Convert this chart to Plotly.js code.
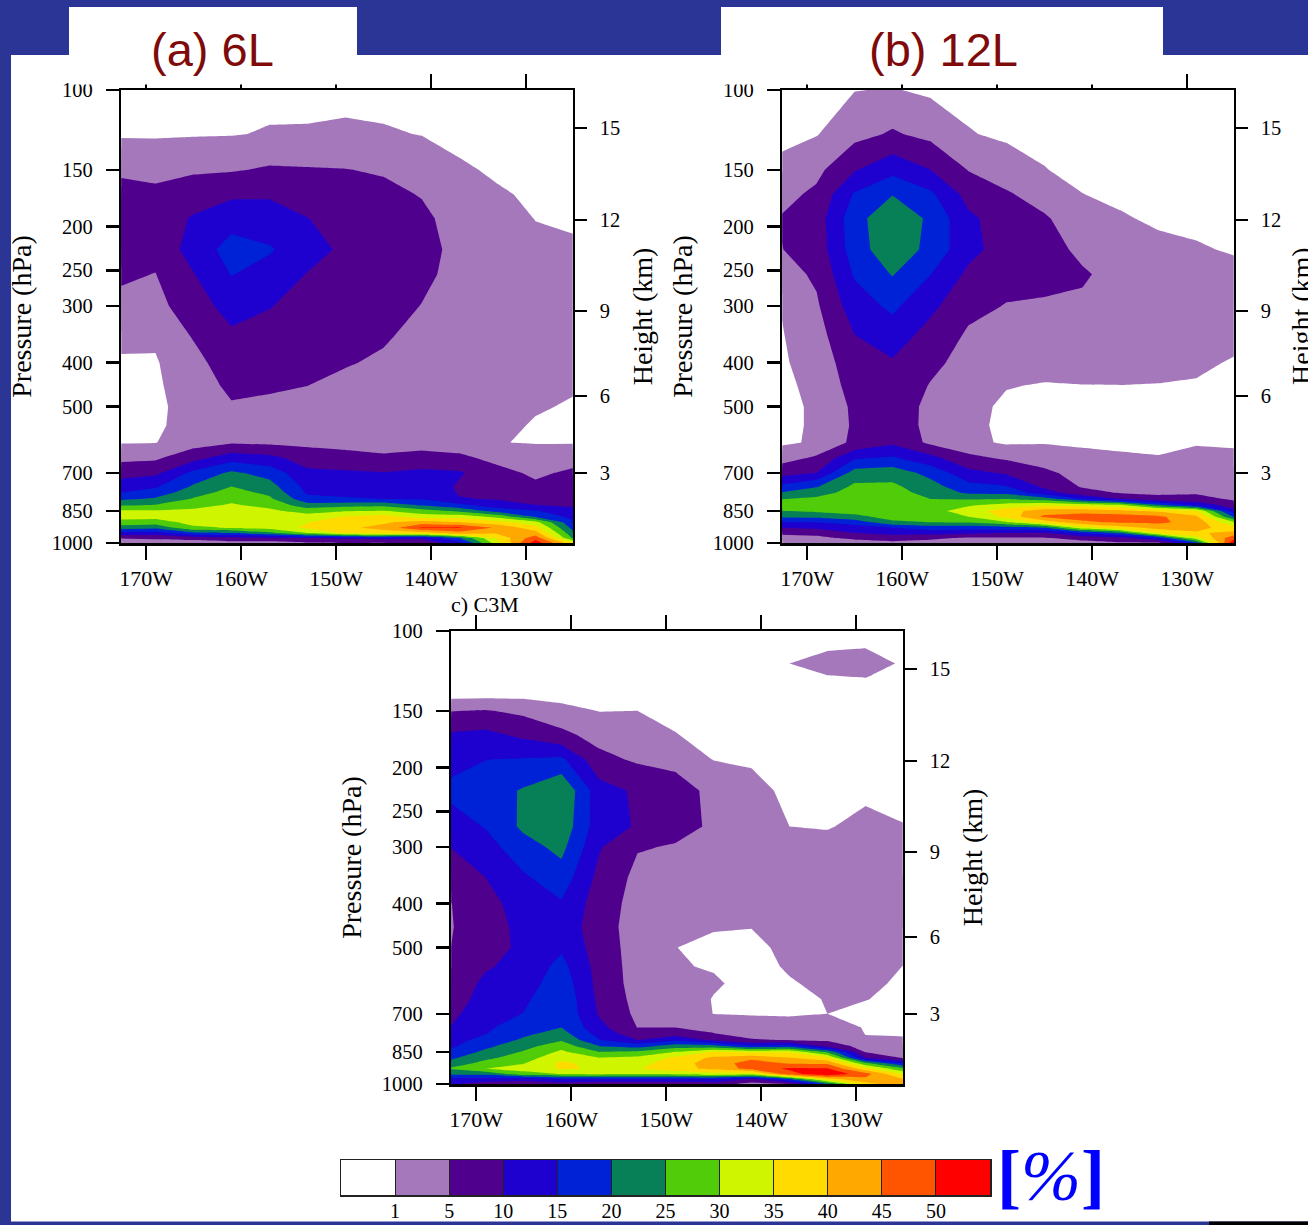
<!DOCTYPE html>
<html><head><meta charset="utf-8">
<script src="https://cdn.plot.ly/plotly-3.0.1.min.js"></script>
<style>html,body{margin:0;padding:0;background:#2B3595}#chart{width:1308px;height:1225px}</style>
</head><body><div id="chart"></div>
<script>
const lons=[-173,-169,-165,-161,-157,-153,-149,-145,-141,-137,-133,-129,-125];
const pressAB=[100,125,150,170,192,225,255,300,350,400,450,500,550,600,650,700,750,775,800,825,850,875,900,925,950,975,1000];
const pressC=[100,118,125,140,150,170,192,225,270,300,350,400,450,500,550,600,650,700,750,775,800,825,850,875,900,925,950,975,1000];
const levels=[1,5,10,15,20,25,30,35,40,45,50];
const levelLabels=['1','5','10','15','20','25','30','35','40','45','50'];
const colors=['#FFFFFF','#A578BC','#4F008C','#1E00CF','#0022D6','#078058','#50CC09','#D0F500','#FFDB00','#FFA800','#FF5500','#FF0000'];
const pTicks=[100,150,200,250,300,400,500,700,850,1000];
const heightTickP=[121.3,193.7,307.6,474,700];
const heightLabels=['15','12','9','6','3'];
const lonTicks=[-170,-160,-150,-140,-130];
const lonLabels=['170W','160W','150W','140W','130W'];

// Cloud fraction (%) per longitude column, from 100 hPa down to 1000 hPa
const a173=[0,.6,4.1,7,7.6,7,5.7,4,1.6,.7,.5,.5,.5,.8,3.9,8,12.4,15,19,24.4,31,32,28,22.5,13,5.3,2];
const a169=[0,.6,3.7,6,7,6.5,4.9,3.6,1.5,.7,.5,.5,.6,.9,4.3,8.9,14.3,17.3,20.8,25.3,30.6,32,27.3,21.5,13,6,2];
const a165=[0,.7,4.4,7.5,10.5,12,9.8,7.5,5.3,3.6,2.8,2,2,3,8.4,16.2,20.6,23,25.5,28.5,31,33,32,29,19,7.5,1.5];
const a161=[0,.8,4.6,9.2,13,17,15.2,12,9,7.4,5.9,4.6,3.8,4.5,13,20.9,25,26.9,28.8,30.6,33,34,33,30.5,20,8,3.5];
const a157=[0,1.26,5.5,9.5,12,15.5,13,10.2,8.3,7,5.5,4.2,3.5,4,11.5,18,22,24,26,28.7,31,33,34,32,24,9,3];
const a153=[0,1.3,5.3,7.8,10.1,12,9.8,8.3,6.8,6,5,4,3.4,3.8,7.8,11,13.4,14.3,16.6,22,28.2,32,34.8,36,30,10,4.5];
const a149=[0,1.6,5.1,6.5,7.8,9,8.3,7,6,5.2,4.3,3.5,3,3.5,6.7,10.7,13,14,15.5,23.2,29.7,35.5,38,39,36,11,5];
const a145=[0,1.3,4.6,6,7,7.8,7.5,6.6,5.3,4.6,3.8,3.2,2.8,3.2,5.8,10.2,12.5,13.7,15,23.7,30.4,37,39.3,41.5,38,12,4.5];
const a141=[0,.9,3,4.8,5.9,6.7,6,4.9,4.2,3.6,3.2,2.8,2.5,3,7,11.1,13.5,13.8,14.8,19.4,27.5,32.5,42,50.5,38,11,7];
const a137=[0,.2,1.4,2.8,3.3,3.6,3.6,3.3,3,2.7,2.4,2.2,2,2.8,6,10.6,9.3,9.6,10.3,16.3,24,33,40,50.5,43,20,13];
const a133=[0,.1,.6,1.3,1.9,2.5,2.8,2.8,2.6,2.4,1.9,1.6,1.3,1.1,3.8,6.4,8.1,8.9,9.7,12.2,18,28.6,37,44,41,36,33];
const a129=[0,0,.2,.6,.95,1.5,1.9,2.2,2,1.8,1.4,1.1,.9,.8,3,4.2,5.8,7,8,10.1,15.5,19.5,31.7,37,42,48,53];
const a125=[0,0,.1,.4,.8,1.2,1.5,1.7,1.5,1.2,1.1,.9,.6,.8,3.5,5.8,7,7.8,8.5,9.5,11,13.5,15.5,18,21,24,36];

const b173=[0,.3,1.6,3.3,5.1,4.7,2.8,.9,.6,.5,.4,.4,.4,.4,3.1,7.7,16,20,24.8,27.5,24.8,21,14.7,10,5.8,3.5,1.2];
const b169=[0,.8,3.7,6,7.5,7,5.8,4.3,3,2.2,1.6,1.3,1.3,1.4,5.8,10,19.5,23,26,28,26,21,15,11,6.5,3.8,1.5];
const b165=[.9,3.5,9.6,15.5,18,17.5,15.5,12.6,9.8,7.8,6.8,5.8,5.6,6,14.5,22,26,27,28.5,28.5,27,23.5,17,13,10,6.2,2.5];
const b161=[1.2,5.5,13.5,19.8,24,23.5,20.3,16,12.4,9.5,8.5,8,8,9,15.7,22.8,26,27,28,29,28.5,27,24,15,11.5,7.5,3.5];
const b157=[.4,3.7,10,16,19,18.5,15.1,11.2,8,6.2,4.7,3.7,3.6,4,11.7,18.3,22,23.3,25,27,28.5,28,25,17.5,12,6,3];
const b153=[0,1.2,4.8,8.2,11,11.5,9,6.2,4.3,3.2,2.2,1.7,1.6,2,6.2,11.5,16.5,19.2,24.5,29.5,32,30,25.5,17,11,4.3,2];
const b149=[0,.4,2.8,5.5,7.5,7.8,6.5,4.8,3,1.9,1.1,.6,.5,.5,4.4,9.3,15.2,18.8,25,32,38,36.5,29.5,18,10,4.5,2];
const b145=[0,.2,1.1,3.2,5.5,6.8,6,4.6,3,1.8,.85,.6,.5,.8,2.9,6,9,12,23,34,42.5,46,37,20,9.8,4.6,2];
const b141=[0,0,.2,1.05,2.4,4,5.5,4.3,3,1.8,.95,.6,.5,.7,1.6,3.2,4.5,7,15.1,33,43,47.5,44,33,15.5,7,3];
const b137=[0,0,0,.4,1.3,2.7,3.5,3.6,2.7,1.6,.98,.6,.5,.6,1.3,2.5,4,4.7,10.2,31,41.5,47.5,45.8,38,21,8.8,4.4];
const b133=[0,0,0,0,.5,1.8,2.7,2.9,2.3,1.4,.95,.6,.5,.6,1.1,2,3.4,4,7,21,39,46,46,42,35,15,4];
const b129=[0,0,0,0,.5,1.2,2.3,2.5,2,1.2,.9,.7,.6,.8,1.8,2.8,3.9,4.5,6.7,14,35.5,41,43,42.5,39,33,18];
const b125=[0,0,0,0,.3,.8,1.6,1.8,1.3,.9,.6,.5,.5,.7,1.5,2.3,3.2,3.7,4.3,7.2,11.5,19,30.5,36,42,49,55];

const c173=[0,0,0,.5,4.8,10.7,12.9,16.2,12,9.8,7,4.6,4.5,4.7,5.5,6.5,7,8.5,9.8,11.3,12.5,13.7,15.7,18.6,21.3,25.3,21,14,11];
const c169=[0,0,0,.6,5.3,11.5,14.9,17.5,15.3,13,10,8,7.5,8,9.5,11,12,12.8,14,14.8,16.8,18.8,21.2,23.7,26.8,30,21.5,13,8];
const c165=[0,0,0,.6,3.9,9.1,15.3,20.5,21,18,14.3,12.5,11.5,11,11.5,12.5,14,15.1,18,19,20.8,23.3,25.5,27.6,29.7,32,28,12,7];
const c161=[0,0,0,.18,2,6.2,16,24.5,23.5,21.4,17.8,14.5,13.3,14.3,16.5,18,19,19.3,20,22,24.5,28,31,33.5,36,35.5,30.3,15,8];
const c157=[0,0,0,.2,.9,3.4,6.3,12,12,10.4,8.5,7.4,7,7.5,8,8.3,8.8,9.4,11.5,13.2,15.1,20,25.1,30,33,34.5,31,14,7];
const c153=[0,0,0,.2,1,2.6,4.3,9.2,9.6,5.3,3.8,3.3,3,3,3,3.1,3.5,4,4.9,7,10,18,26,31,33,34.5,30.5,14,7];
const c149=[0,0,0,0,.4,1.1,3.3,7.5,6.2,4.7,3,2,1.5,1.02,1.15,1.6,2.3,3.5,4.9,7.9,14,22.5,30.2,36,38,38.5,31,14,7];
const c145=[0,0,0,0,0,.3,.9,3.5,4.5,3.8,2.5,1.6,1.1,.7,.85,1.25,.9,.95,3.8,5.2,9,22,35.5,41,42,41,33,14,8];
const c141=[0,0,0,0,0,.1,.6,2,3,3,2.3,1.5,1.05,.5,.4,.4,.5,.8,2.4,3.5,5.4,16,34,43.5,47.5,47,32,10,3];
const c137=[0,1,.5,0,0,0,0,.3,1,1.7,2,2,1.8,1.5,1.2,.85,.5,.8,1.8,3.5,4.8,17.5,34.5,40.3,44.5,50.8,48,20,5];
const c133=[0,1.63,1.02,0,0,0,0,0,.9,1.5,1.9,2.2,2.1,1.9,1.7,1.4,1.1,1,2.5,3.2,4.4,8.2,24,35.8,44.2,50.5,54,38,20];
const c129=[0,1.88,1.15,0,0,0,0,.7,1.4,2,2.4,2.6,2.4,2.1,1.7,1.4,1.05,.6,.8,.95,1.2,3,4.8,9,26,37,47,44,38];
const c125=[0,.75,.3,0,0,0,0,.1,1.1,1.5,2,2.2,2,1.5,.97,.7,.6,.6,.7,.85,1.2,2.4,3.5,4.6,15,26,34,40,44];

const colsA=[a173,a169,a165,a161,a157,a153,a149,a145,a141,a137,a133,a129,a125];
const colsB=[b173,b169,b165,b161,b157,b153,b149,b145,b141,b137,b133,b129,b125];
const colsC=[c173,c169,c165,c161,c157,c153,c149,c145,c141,c137,c133,c129,c125];

const W=1308,H=1225;
function gridFrom(cols,nrows){
  const z=[];
  for(let r=0;r<nrows;r++) z.push(cols.map(c=>c[r]));
  return z;
}
// Contours run every 1 % from 1 to 50; the fill colour map spans 0.5..50.5 across the colour scale,
// so the stepped scale has its breaks at the class limits on that span.
const valueScale=(()=>{const s=[],b=[0.5].concat(levels,[50.5]);const f=v=>(v-0.5)/50;colors.forEach((c,i)=>{s.push([f(b[i]),c]);s.push([f(b[i+1]),c]);});return s;})();
const keyScale=(()=>{const s=[],n=colors.length;colors.forEach((c,i)=>{s.push([i/n,c]);s.push([(i+1)/n,c]);});return s;})();
const serif='"Liberation Serif","Times New Roman",serif';
const tickFont={family:serif,size:20.5,color:'#000'};
const lonFont={family:serif,size:22,color:'#000'};
const titleFont={family:serif,size:28,color:'#000'};
const LW=2.5;

const dX=(a,b)=>[a/W,b/W];
const dY=(t,b)=>[1-b/H,1-t/H];

const layout={
  width:W,height:H,margin:{l:0,r:0,t:0,b:0},paper_bgcolor:'#2B3595',plot_bgcolor:'#FFFFFF',showlegend:false,
  shapes:[],annotations:[]
};
function rect(x0,y0,x1,y1,color,lay){
  layout.shapes.push({type:'rect',xref:'paper',yref:'paper',x0:x0/W,x1:x1/W,y0:1-y0/H,y1:1-y1/H,fillcolor:color,line:{width:0},layer:lay});
}
function text(x,y,t,font,extra){
  layout.annotations.push(Object.assign({xref:'paper',yref:'paper',x:x/W,y:1-y/H,text:t,showarrow:false,font:font,xanchor:'center',yanchor:'middle'},extra||{}));
}
rect(11,55,W,1221.5,'#FFFFFF','below');
rect(1209,1221.5,W,H,'#000000','below');

const traces=[];
function panel(n,cols,press,left,top,rightTitle){
  const sx=n===1?'':String((n-1)*2+1), sy=n===1?'':String((n-1)*2+1), sy2=String((n-1)*2+2);
  const right=left+454,bottom=top+453;
  traces.push({type:'contour',x:lons,y:press,z:gridFrom(cols,press.length),xaxis:'x'+sx,yaxis:'y'+sy,
    autocontour:false,contours:{start:1,end:50,size:1,coloring:'fill',showlines:false},
    line:{width:0,smoothing:0},colorscale:valueScale,showscale:false,hoverinfo:'skip'});
  // carrier so that the height axis on the right is drawn
  traces.push({type:'scatter',mode:'lines',x:[lons[0]],y:[heightTickP[4]],xaxis:'x'+sx,yaxis:'y'+sy2,opacity:0,hoverinfo:'skip',showlegend:false});
  layout['xaxis'+sx]={domain:dX(left+1.25,right-1.25),range:[-172.605,-125.08],anchor:'y'+sy,tickmode:'array',tickvals:lonTicks,ticktext:lonLabels,
    ticks:'outside',ticklen:14,tickwidth:LW,tickcolor:'#000',showline:true,linecolor:'#000',linewidth:LW,mirror:'ticks',showgrid:false,zeroline:false,tickfont:lonFont,ticklabelstandoff:0};
  layout['yaxis'+sy]={domain:dY(top,bottom),type:'log',range:[3,2],autorange:false,anchor:'x'+sx,tickmode:'array',tickvals:pTicks,ticktext:pTicks.map(String),
    ticks:'outside',ticklen:13,tickwidth:LW,tickcolor:'#000',showline:true,linecolor:'#000',linewidth:LW,mirror:true,showgrid:false,zeroline:false,tickfont:tickFont,ticklabelstandoff:9,
    title:{text:'Pressure (hPa)',font:titleFont,standoff:12}};
  layout['yaxis'+sy2]={domain:dY(top,bottom),type:'log',range:[3,2],autorange:false,overlaying:'y'+sy,anchor:'x'+sx,side:'right',tickmode:'array',tickvals:heightTickP,ticktext:heightLabels,
    ticks:'outside',ticklen:13,tickwidth:LW,tickcolor:'#000',showline:false,showgrid:false,zeroline:false,tickfont:tickFont,ticklabelstandoff:9,
    title:rightTitle?{text:'Height (km)',font:titleFont,standoff:13}:{text:''}};
}
panel(1,colsA,pressAB,120,90,true);
panel(2,colsB,pressAB,781,90,false);
panel(3,colsC,pressC,450,631,true);

// colour key
const keyX=colors.map((c,i)=>i+0.5);
traces.push({type:'heatmap',x:keyX,y:[0],z:[colors.map((c,i)=>i)],xaxis:'x7',yaxis:'y7',zmin:0,zmax:12,colorscale:keyScale,showscale:false,hoverinfo:'skip'});
layout.xaxis7={domain:dX(341,990),range:[0,12],anchor:'y7',tickmode:'array',tickvals:levels.map((l,i)=>i+1),ticktext:levelLabels,ticks:'inside',ticklen:35,tickwidth:1,tickcolor:'#222',
  showline:true,linecolor:'#222',linewidth:1.5,mirror:true,showgrid:false,zeroline:false,tickfont:{family:serif,size:20,color:'#000'},ticklabelstandoff:-3};
layout.yaxis7={domain:dY(1160,1195),range:[-0.5,0.5],anchor:'x7',showticklabels:false,ticks:'',showline:true,linecolor:'#222',linewidth:1.5,mirror:true,showgrid:false,zeroline:false};

// pasted title tabs: they sit over the upper ticks and the top of the "100" labels
rect(69,7,357,84.5,'#FFFFFF','above');
rect(721,7,1163,84.5,'#FFFFFF','above');

const headFont={family:'"Liberation Sans",Arial,sans-serif',size:47,color:'#7F0A0A'};
text(212.5,49,'(a) 6L',headFont);
text(943,49,'(b) 12L',headFont);
text(484.5,605,'c) C3M',{family:serif,size:22,color:'#000'});
text(1051,1176,'<b>[</b><i>%</i><b>]</b>',{family:serif,size:72,color:'#0000FF'});
text(1301,316,'Height (km)',titleFont,{textangle:-90});

Plotly.newPlot('chart',traces,layout,{displayModeBar:false,staticPlot:true});
</script></body></html>
